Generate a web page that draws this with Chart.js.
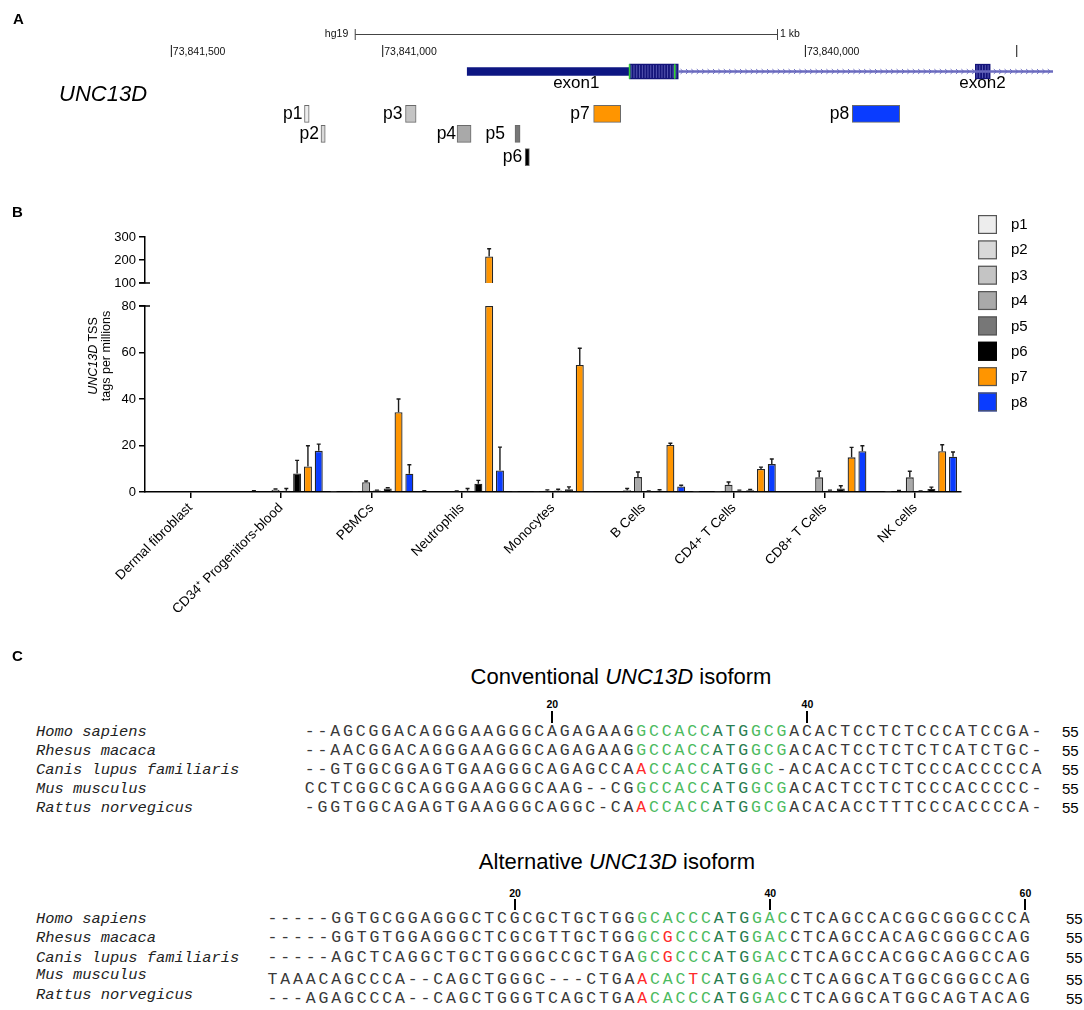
<!DOCTYPE html>
<html>
<head>
<meta charset="utf-8">
<title>UNC13D TSS</title>
<script src="https://cdn.jsdelivr.net/npm/chart.js@4.4.1/dist/chart.umd.min.js"></script>
<style>
  html, body { margin:0; padding:0; background:#fff; }
  #page { position:relative; width:1084px; height:1010px; overflow:hidden; font-family:"Liberation Sans", Arial, sans-serif; color:#000; }
  .t { position:absolute; white-space:nowrap; }
  .plabel { font-weight:bold; font-size:15px; line-height:16px; }
  canvas { position:absolute; left:0; }
  .seqrow { position:absolute; display:flex; font-family:"Liberation Mono","Courier New",monospace; font-size:16.5px; line-height:20px; height:20px; }
  .seqrow span { display:block; width:12.76px; text-align:center; }
  .species { position:absolute; font-family:"Liberation Mono","Courier New",monospace; font-style:italic; font-size:15.4px; line-height:20px; color:#222; white-space:nowrap; }
  .num { position:absolute; font-size:15px; line-height:20px; }
  .tick { position:absolute; font-size:10.5px; font-weight:bold; line-height:12px; width:30px; text-align:center; }
  .tickbar { position:absolute; width:2px; background:#000; }
  .title { position:absolute; font-size:22px; line-height:26px; white-space:nowrap; transform:translateX(-50%); }
</style>
</head>
<body>
<div id="page">
  <canvas id="cA" width="1084" height="195" style="top:0"></canvas>
  <canvas id="cB" width="1084" height="465" style="top:195px"></canvas>
  <div class="t plabel" style="left:13px;top:11px">A</div>
  <div class="t" style="left:59px;top:81px;font-size:22px;font-style:italic;line-height:26px">UNC13D</div>
  <div class="t plabel" style="left:12px;top:204px">B</div>
  <div class="t" style="left:39.5px;top:343px;width:120px;text-align:center;font-size:12.5px;line-height:13px;transform:rotate(-90deg);transform-origin:60px 13px;"><i>UNC13D</i> TSS<br>tags per millions</div>
  <div class="t plabel" style="left:12px;top:648px">C</div>
  <div id="panelC"></div>
</div>
<script>
// ---------------- DATA ----------------
// Panel A: genomic features (hg19, chr17)
const probeNames  = ['p1','p2','p3','p4','p5','p6','p7','p8'];
const probeStart  = [73841174, 73841136, 73840921, 73840791, 73840675, 73840653, 73840437, 73839777];
const probeEnd    = [73841185, 73841146, 73840946, 73840824, 73840687, 73840663, 73840501, 73839889];
const probeRow    = [1, 2, 1, 2, 2, 3, 1, 1];
const utr5        = [73840416, 73840800];
const cds1        = [73840301, 73840416];
const cdsMarks    = [73840416, 73840309];
const intron      = [73839415, 73840301];
const exon2       = [73839563, 73839598];
const exonLabels  = ['exon1', 'exon2'];
const exonLabelAt = [73840542, 73839581];
const coordTicks  = [73841500, 73841000, 73840000, 73839500];
const coordLabels = ['73,841,500', '73,841,000', '73,840,000', ''];
const scaleBar    = [73841065, 73840066];

// Panel B: UNC13D TSS tags per million (mean, upper error)
const categories = ['Dermal fibroblast', 'CD34\u207A Progenitors-blood', 'PBMCs', 'Neutrophils', 'Monocytes', 'B Cells', 'CD4+ T Cells', 'CD8+ T Cells', 'NK cells'];
const p1 = [0, 0,    0.1,  0.4, 0.2,  0,    0.1,  0,    0];
const p2 = [0, 0.3,  0,    0,   0,    0,    0,    0,    0.1];
const p3 = [0, 0,    0.2,  0,   0.2,  0.8,  0.1,  0.3,  0.3];
const p4 = [0, 1.0,  4.2,  0.3, 0.5,  6.4,  3.1,  6.3,  6.3];
const p5 = [0, 0.5,  0.6,  0.5, 0.6,  0.3,  0.5,  0.5,  0.3];
const p6 = [0, 8.0,  1.5,  3.6, 1.2,  0.5,  0.8,  1.5,  1.3];
const p7 = [0, 11.0, 34.3, 215, 54.6, 20.2, 9.9,  14.9, 17.5];
const p8 = [0, 17.7, 7.9,  9.3, 0.2,  2.4,  12.0, 17.5, 15.2];
const p1sd = [0, 0,   0,   0.2, 0,   0,   0,   0,   0];
const p2sd = [0, 0.3, 0,   0,   0,   0,   0,   0,   0];
const p3sd = [0, 0,   0,   0,   0,   0.7, 0,   0,   0.4];
const p4sd = [0, 0.3, 0.5, 0.2, 0.4, 2.2, 1.2, 2.6, 2.6];
const p5sd = [0, 1.0, 0.2, 1.0, 0.6, 0.2, 0.3, 0.3, 0.2];
const p6sd = [0, 5.6, 0.3, 1.4, 1.0, 0.5, 0.3, 1.2, 0.8];
const p7sd = [0, 8.9, 5.7, 34,  7.2, 0.8, 0.8, 4.3, 2.8];
const p8sd = [0, 2.9, 3.8, 10.0, 0,  0.5, 2.2, 2.4, 2.0];
const lowTicks  = [0, 80, 20];     // min, max, step of lower segment
const highTicks = [100, 300, 100]; // min, max, step of upper segment

// Panel C: sequence alignments
const species = ['Homo sapiens', 'Rhesus macaca', 'Canis lupus familiaris', 'Mus musculus', 'Rattus norvegicus'];
const convSeqs = [
  '--AGCGGACAGGGAAGGGCAGAGAAGGCCACCATGGCGACACTCCTCTCCCATCCGA-',
  '--AACGGACAGGGAAGGGCAGAGAAGGCCACCATGGCGACACTCCTCTCTCATCTGC-',
  '--GTGGCGGAGTGAAGGGCAGAGCCAACCACCATGGC-ACACACCTCTCCCACCCCCA',
  'CCTCGGCGCAGGGAAGGGCAAG--CGGCCACCATGGCGACACTCCTCTCCCACCCCC-',
  '-GGTGGCAGAGTGAAGGGCAGGC-CAACCACCATGGCGACACACCTTTCCCACCCCA-'
];
const convKozak = [[27,38],[27,38],[28,37],[27,38],[28,38]];
const convATG   = [33,35];
const convDiff  = [[],[],[27],[],[27]];
const convTicks = [20, 40];
const altSeqs = [
  '-----GGTGCGGAGGGCTCGCGCTGCTGGGCACCCATGGACCTCAGCCACGGCGGGCCCA',
  '-----GGTGTGGAGGGCTCGCGTTGCTGGGCGCCCATGGACCTCAGCCACAGCGGGCCAG',
  '-----AGCTCAGGCTGCTGGGGCCGCTGAGCGCCCATGGACCTCAGCCACGGCAGGCCAG',
  'TAAACAGCCCA--CAGCTGGGC---CTGAACACTCATGGACCTCAGGCATGGCGGGCCAG',
  '---AGAGCCCA--CAGCTGGGTCAGCTGAACACCCATGGACCTCAGGCATGGCAGTACAG'
];
const altKozak = [[30,41],[30,41],[30,41],[31,41],[31,41]];
const altATG   = [36,38];
const altDiff  = [[],[32],[32],[30,34],[30]];
const altTicks = [20, 40, 60];
const endNumbers = [55, 55, 55, 55, 55];

// ---------------- STYLE / LAYOUT ----------------
Chart.defaults.font.family = '"Liberation Sans", Arial, sans-serif';
Chart.defaults.color = '#000';
const probeColors = ['#ededed', '#d9d9d9', '#c4c4c4', '#a9a9a9', '#777777', '#000000', '#ff9500', '#0a3cff'];
const A_ROW_Y = [65, 118, 143, 172];
const A_LABEL_GAP = [2, 2, 3, 1, 10, 3, 4, 3];

// ---------------- PANEL A ----------------
const geneTrackPlugin = {
  id: 'geneTrack',
  afterDatasetsDraw(chart) {
    const {ctx, scales: {x, y}} = chart;
    const X = v => x.getPixelForValue(v), Y = v => y.getPixelForValue(v);
    const yc = Y(A_ROW_Y[0]);
    ctx.save();
    // intron direction chevrons
    ctx.strokeStyle = '#6b6bbf'; ctx.lineWidth = 1;
    const xa = X(intron[1]) + 4, xb = X(intron[0]) - 1;
    for (let px = xa; px < xb; px += 5.4) {
      const l = X(exon2[1]) - 1, r = X(exon2[0]) + 1;
      if (px > l && px < r + 2) continue;
      ctx.beginPath(); ctx.moveTo(px - 1.6, yc - 2.4); ctx.lineTo(px + 1, yc); ctx.lineTo(px - 1.6, yc + 2.4); ctx.stroke();
    }
    // stripes in coding exons
    ctx.strokeStyle = '#5f5fb8'; ctx.lineWidth = 0.9;
    [cds1, exon2].forEach(r => {
      const l = X(r[1]), rr = X(r[0]);
      for (let px = l + 1.6; px < rr - 0.6; px += 2.8) {
        ctx.beginPath(); ctx.moveTo(px, yc - 6.4); ctx.lineTo(px, yc + 6.4); ctx.stroke();
      }
    });
    ctx.strokeStyle = '#33d033'; ctx.lineWidth = 1.6;
    cdsMarks.forEach(v => { const px = X(v); ctx.beginPath(); ctx.moveTo(px, yc - 7.3); ctx.lineTo(px, yc + 7.3); ctx.stroke(); });
    // coordinate ticks
    ctx.strokeStyle = '#111'; ctx.lineWidth = 1; ctx.fillStyle = '#111';
    ctx.font = '10.5px "Liberation Sans", Arial, sans-serif'; ctx.textBaseline = 'middle'; ctx.textAlign = 'left';
    coordTicks.forEach((v, i) => {
      const px = X(v);
      ctx.beginPath(); ctx.moveTo(px, 45); ctx.lineTo(px, 57); ctx.stroke();
      if (coordLabels[i]) ctx.fillText(coordLabels[i], px + 1.5, 52);
    });
    // scale bar
    const s0 = X(scaleBar[0]), s1 = X(scaleBar[1]);
    ctx.strokeStyle = '#444';
    ctx.beginPath(); ctx.moveTo(s0, 34.5); ctx.lineTo(s1, 34.5);
    ctx.moveTo(s0, 29); ctx.lineTo(s0, 40); ctx.moveTo(s1, 29); ctx.lineTo(s1, 40); ctx.stroke();
    ctx.textAlign = 'right'; ctx.fillText('hg19', s0 - 7, 34.5);
    ctx.textAlign = 'left'; ctx.fillText('1 kb', s1 + 2.5, 34);
    // exon labels
    ctx.fillStyle = '#000'; ctx.font = '17px "Liberation Sans", Arial, sans-serif'; ctx.textAlign = 'center';
    exonLabels.forEach((t, i) => ctx.fillText(t, X(exonLabelAt[i]), 83.5));
    // probe labels
    ctx.font = '17.5px "Liberation Sans", Arial, sans-serif'; ctx.textAlign = 'right';
    probeNames.forEach((n, i) => ctx.fillText(n, X(probeEnd[i]) - A_LABEL_GAP[i], Y(A_ROW_Y[probeRow[i]]) + 0.5));
    ctx.restore();
  }
};

const barCommon = { grouped: false, barPercentage: 1, categoryPercentage: 1, borderSkipped: false };
new Chart(document.getElementById('cA'), {
  type: 'bar',
  data: {
    datasets: [
      Object.assign({ data: [{x: intron, y: A_ROW_Y[0]}], backgroundColor: '#6b6bbf', borderWidth: 0, maxBarThickness: 1.6 }, barCommon),
      Object.assign({ data: [{x: utr5, y: A_ROW_Y[0]}], backgroundColor: '#0d1682', borderWidth: 0, maxBarThickness: 7.6 }, barCommon),
      Object.assign({ data: [{x: cds1, y: A_ROW_Y[0]}, {x: exon2, y: A_ROW_Y[0]}], backgroundColor: '#14147a', borderWidth: 0, maxBarThickness: 14.6 }, barCommon),
      Object.assign({ data: probeStart.map((s, i) => ({x: [s, probeEnd[i]], y: A_ROW_Y[probeRow[i]]})),
        backgroundColor: probeColors, borderColor: '#6a6a6a', borderWidth: 1, maxBarThickness: 17 }, barCommon)
    ]
  },
  options: {
    indexAxis: 'y', responsive: false, animation: false,
    layout: { padding: 0 },
    plugins: { legend: { display: false }, tooltip: { enabled: false } },
    scales: {
      x: { type: 'linear', min: 73839340.9, max: 73841905.4, reverse: true, display: false },
      y: { type: 'linear', min: 0, max: 195, reverse: true, display: false, ticks: { stepSize: 50 } }
    }
  },
  plugins: [geneTrackPlugin]
});

// ---------------- PANEL B ----------------
const series = [p1, p2, p3, p4, p5, p6, p7, p8];
const seriesSd = [p1sd, p2sd, p3sd, p4sd, p5sd, p6sd, p7sd, p8sd];
const LOW_MAX = lowTicks[1], HIGH_MIN = highTicks[0];

const datasetsB = [];
series.forEach((vals, s) => datasetsB.push({
  label: probeNames[s], data: vals.map(v => Math.min(v, LOW_MAX)), yAxisID: 'yLow', stack: 's' + s,
  backgroundColor: probeColors[s], borderColor: '#262626', borderWidth: 1.3
}));
series.forEach((vals, s) => datasetsB.push({
  label: probeNames[s] + ' (upper)', data: vals.map(v => v > HIGH_MIN ? [HIGH_MIN, v] : null), yAxisID: 'yHigh', stack: 's' + s,
  backgroundColor: probeColors[s], borderColor: '#262626', borderWidth: 1.3
}));

const errorBarPlugin = {
  id: 'errorBars',
  afterDatasetsDraw(chart) {
    const {ctx} = chart, yLow = chart.scales.yLow, yHigh = chart.scales.yHigh;
    const toPx = v => v > LOW_MAX ? yHigh.getPixelForValue(Math.max(v, HIGH_MIN)) : yLow.getPixelForValue(v);
    ctx.save(); ctx.strokeStyle = '#1a1a1a'; ctx.lineWidth = 1.4;
    series.forEach((vals, s) => {
      const meta = chart.getDatasetMeta(s);
      vals.forEach((v, i) => {
        const e = seriesSd[s][i]; if (!e) return;
        const x = meta.data[i].x, y0 = toPx(v), y1 = toPx(v + e);
        ctx.beginPath(); ctx.moveTo(x, y0); ctx.lineTo(x, y1); ctx.moveTo(x - 2, y1); ctx.lineTo(x + 2, y1); ctx.stroke();
      });
    });
    // axis break marks
    const left = chart.chartArea.left;
    ctx.lineWidth = 1.5; ctx.strokeStyle = '#000';
    [yLow.getPixelForValue(LOW_MAX), yHigh.getPixelForValue(HIGH_MIN)].forEach(py => {
      ctx.beginPath(); ctx.moveTo(left - 6, py); ctx.lineTo(left + 5, py); ctx.stroke();
    });
    ctx.restore();
  }
};

const legendPlugin = {
  id: 'probeLegend',
  afterDraw(chart) {
    const {ctx} = chart;
    ctx.save();
    ctx.font = '15px "Liberation Sans", Arial, sans-serif'; ctx.textBaseline = 'middle'; ctx.textAlign = 'left';
    probeNames.forEach((n, s) => {
      const y = 20 + s * 25.35, x = 978;
      ctx.fillStyle = probeColors[s]; ctx.fillRect(x, y, 19, 19);
      ctx.strokeStyle = s === 5 ? '#000' : '#555'; ctx.lineWidth = 1.2; ctx.strokeRect(x + 0.6, y + 0.6, 17.8, 17.8);
      ctx.fillStyle = '#000'; ctx.fillText(n, x + 33, y + 10);
    });
    ctx.restore();
  }
};

const yCommon = {
  type: 'linear', position: 'left', stack: 'v', stacked: false, offset: false,
  grid: { drawOnChartArea: false, drawTicks: true, tickLength: 6, color: '#000', lineWidth: 1.5 },
  border: { display: true, color: '#000', width: 1.5 },
  ticks: { font: { size: 13 }, color: '#000', padding: 3 },
  afterFit(scale) { scale.width = 145; }
};

new Chart(document.getElementById('cB'), {
  type: 'bar',
  data: { labels: categories, datasets: datasetsB },
  options: {
    responsive: false, animation: false,
    barPercentage: 0.74, categoryPercentage: 0.954,
    layout: { padding: { left: 0, right: 123.5, top: 42, bottom: 0 } },
    plugins: { legend: { display: false }, tooltip: { enabled: false } },
    scales: {
      x: {
        type: 'category',
        grid: { display: true, drawOnChartArea: false, drawTicks: true, tickLength: 6, color: '#000', lineWidth: 1.5, offset: false },
        border: { display: true, color: '#000', width: 1.5 },
        ticks: { font: { size: 13.5 }, color: '#000', maxRotation: 45, minRotation: 45, autoSkip: false, padding: 2 },
        afterFit(scale) { scale.height = 168; }
      },
      yHigh: Object.assign({}, yCommon, { min: highTicks[0], max: highTicks[1], stackWeight: 46, weight: 3,
        ticks: Object.assign({}, yCommon.ticks, { stepSize: highTicks[2] }) }),
      yGap: { type: 'linear', position: 'left', stack: 'v', stackWeight: 23, weight: 2, min: 0, max: 1,
        grid: { display: false }, border: { display: false }, ticks: { display: false },
        afterFit(scale) { scale.width = 145; } },
      yLow: Object.assign({}, yCommon, { min: lowTicks[0], max: lowTicks[1], stackWeight: 186, weight: 1,
        ticks: Object.assign({}, yCommon.ticks, { stepSize: lowTicks[2] }) })
    }
  },
  plugins: [errorBarPlugin, legendPlugin]
});

// ---------------- PANEL C ----------------
const PITCH = 12.76;
const COL = { base: '#3a3a3a', kozak: '#4dbb5f', atg: '#2a7d50', diff: '#ff2a2a' };
const inR = (p, r) => r && p >= r[0] && p <= r[1];
function buildBlock(cfg) {
  const root = document.getElementById('panelC');
  const add = (cls, style, html) => { const d = document.createElement('div'); d.className = cls; d.setAttribute('style', style); d.innerHTML = html; root.appendChild(d); return d; };
  add('title', `left:${cfg.titleX}px;top:${cfg.titleY - 13}px`, cfg.title);
  const center = p => cfg.seqLeft + (p - 0.5) * PITCH;
  cfg.ticks.forEach(p => {
    add('tick', `left:${center(p) - 15}px;top:${cfg.tickY - 6}px`, String(p));
    add('tickbar', `left:${center(p) - 1}px;top:${cfg.barTop}px;height:${cfg.barH}px`, '');
  });
  species.forEach((name, r) => {
    add('species', `left:36px;top:${cfg.nameY[r] - 10}px`, name);
    const seq = cfg.seqs[r];
    let html = '';
    for (let i = 0; i < seq.length; i++) {
      const p = i + 1; let c = COL.base;
      if (inR(p, cfg.kozak[r])) c = COL.kozak;
      if (inR(p, cfg.atg)) c = COL.atg;
      if (cfg.diff[r].includes(p)) c = COL.diff;
      html += `<span style="color:${c}">${seq[i]}</span>`;
    }
    add('seqrow', `left:${cfg.seqLeft}px;top:${cfg.seqY[r] - 10}px`, html);
    add('num', `left:${cfg.numX}px;top:${cfg.seqY[r] - 10}px`, String(endNumbers[r]));
  });
}
buildBlock({
  title: 'Conventional <i>UNC13D</i> isoform', titleX: 621, titleY: 677,
  ticks: convTicks, tickY: 704, barTop: 711, barH: 12,
  seqs: convSeqs, kozak: convKozak, atg: convATG, diff: convDiff,
  seqLeft: 303.4, nameY: [732, 751, 770, 789, 808], seqY: [732, 751, 770, 789, 808], numX: 1062
});
buildBlock({
  title: 'Alternative <i>UNC13D</i> isoform', titleX: 617, titleY: 862,
  ticks: altTicks, tickY: 893, barTop: 899, barH: 11,
  seqs: altSeqs, kozak: altKozak, atg: altATG, diff: altDiff,
  seqLeft: 266.2, nameY: [919, 938, 958, 975, 995], seqY: [919, 938, 958, 980, 999], numX: 1066
});
</script>
</body>
</html>
